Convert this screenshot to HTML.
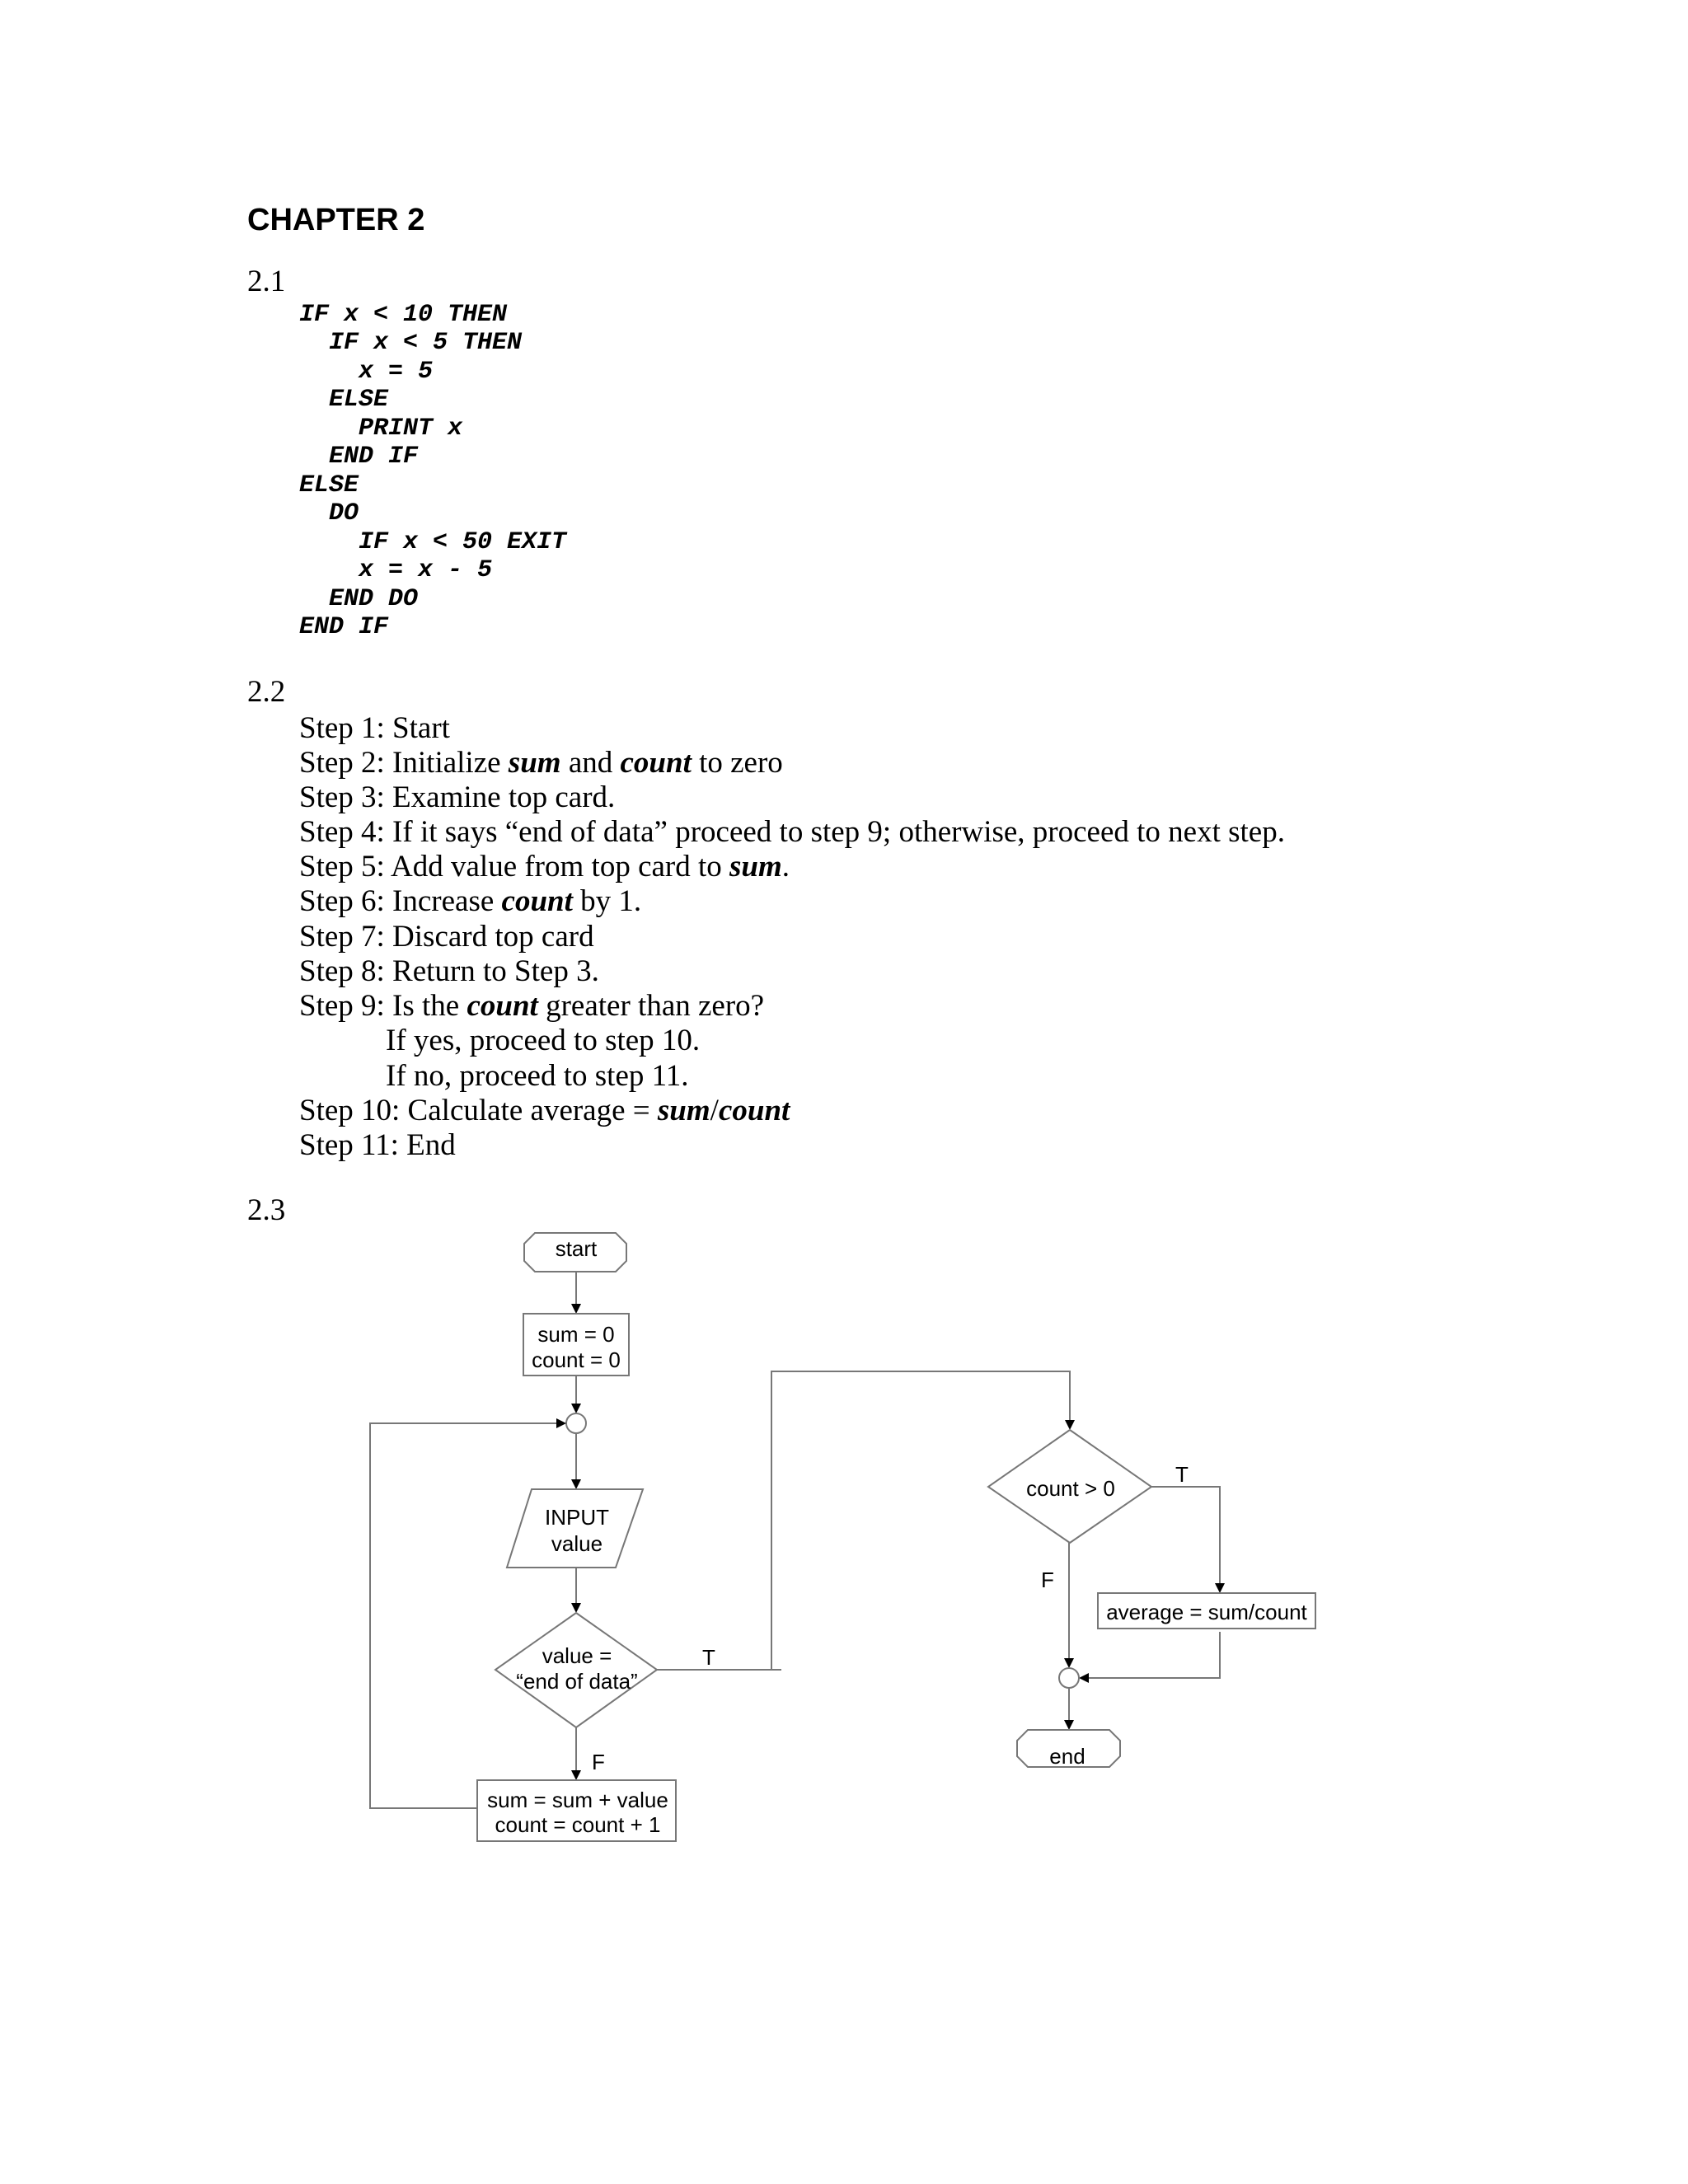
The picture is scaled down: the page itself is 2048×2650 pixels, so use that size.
<!DOCTYPE html>
<html><head><meta charset="utf-8"><style>
html,body{margin:0;padding:0;background:#fff;}
svg{display:block;}
.t{font-family:"Liberation Serif",serif;font-size:37px;fill:#000;}
.c{font-family:"Liberation Mono",monospace;font-size:30px;font-weight:bold;font-style:italic;fill:#000;}
.a{font-family:"Liberation Sans",sans-serif;font-size:26px;fill:#000;}
.bi{font-weight:bold;font-style:italic;}
.sh{fill:#fff;stroke:#777;stroke-width:2;}
.ln{fill:none;stroke:#777;stroke-width:2;}
.ar{fill:#000;}
</style></head><body>
<svg width="2048" height="2650" viewBox="0 0 2048 2650" xmlns="http://www.w3.org/2000/svg">
<text x="300" y="279" font-family="Liberation Sans, sans-serif" font-weight="bold" font-size="38">CHAPTER 2</text>
<text class="t" x="300" y="353">2.1</text>
<text class="c" x="363" y="389">IF x &lt; 10 THEN</text>
<text class="c" x="399" y="423">IF x &lt; 5 THEN</text>
<text class="c" x="435" y="458">x = 5</text>
<text class="c" x="399" y="492">ELSE</text>
<text class="c" x="435" y="527">PRINT x</text>
<text class="c" x="399" y="561">END IF</text>
<text class="c" x="363" y="596">ELSE</text>
<text class="c" x="399" y="630">DO</text>
<text class="c" x="435" y="665">IF x &lt; 50 EXIT</text>
<text class="c" x="435" y="699">x = x - 5</text>
<text class="c" x="399" y="734">END DO</text>
<text class="c" x="363" y="768">END IF</text>

<text class="t" x="300" y="851">2.2</text>
<text class="t" x="363" y="895">Step 1: Start</text>
<text class="t" x="363" y="937">Step 2: Initialize <tspan class="bi">sum</tspan> and <tspan class="bi">count</tspan> to zero</text>
<text class="t" x="363" y="979">Step 3: Examine top card.</text>
<text class="t" x="363" y="1021">Step 4: If it says “end of data” proceed to step 9; otherwise, proceed to next step.</text>
<text class="t" x="363" y="1063">Step 5: Add value from top card to <tspan class="bi">sum</tspan>.</text>
<text class="t" x="363" y="1105">Step 6: Increase <tspan class="bi">count</tspan> by 1.</text>
<text class="t" x="363" y="1148">Step 7: Discard top card</text>
<text class="t" x="363" y="1190">Step 8: Return to Step 3.</text>
<text class="t" x="363" y="1232">Step 9: Is the <tspan class="bi">count</tspan> greater than zero?</text>
<text class="t" x="468" y="1274">If yes, proceed to step 10.</text>
<text class="t" x="468" y="1317">If no, proceed to step 11.</text>
<text class="t" x="363" y="1359">Step 10: Calculate average = <tspan class="bi">sum</tspan>/<tspan class="bi">count</tspan></text>
<text class="t" x="363" y="1401">Step 11: End</text>

<text class="t" x="300" y="1480">2.3</text>

<!-- start -->
<polygon class="sh" points="649,1496 747,1496 760,1509 760,1530 747,1543 649,1543 636,1530 636,1509"/>
<text class="a" x="699" y="1524" text-anchor="middle">start</text>
<line class="ln" x1="699" y1="1543" x2="699" y2="1584"/>
<polygon class="ar" points="693,1582 705,1582 699,1594"/>
<!-- sum box -->
<rect class="sh" x="635" y="1594" width="128" height="75"/>
<text class="a" x="699" y="1628" text-anchor="middle">sum = 0</text>
<text class="a" x="699" y="1659" text-anchor="middle">count = 0</text>
<line class="ln" x1="699" y1="1669" x2="699" y2="1705"/>
<polygon class="ar" points="693,1703 705,1703 699,1715"/>
<circle class="sh" cx="699" cy="1727" r="12"/>
<line class="ln" x1="699" y1="1739" x2="699" y2="1797"/>
<polygon class="ar" points="693,1795 705,1795 699,1807"/>
<!-- parallelogram -->
<polygon class="sh" points="645,1807 780,1807 747,1902 615,1902"/>
<text class="a" x="700" y="1850" text-anchor="middle">INPUT</text>
<text class="a" x="700" y="1882" text-anchor="middle">value</text>
<line class="ln" x1="699" y1="1902" x2="699" y2="1947"/>
<polygon class="ar" points="693,1945 705,1945 699,1957"/>
<!-- diamond 1 -->
<polygon class="sh" points="699,1957 797,2026 699,2096 601,2026"/>
<text class="a" x="700" y="2018" text-anchor="middle">value =</text>
<text class="a" x="700" y="2049" text-anchor="middle">“end of data”</text>
<line class="ln" x1="699" y1="2096" x2="699" y2="2150"/>
<polygon class="ar" points="693,2148 705,2148 699,2160"/>
<text class="a" x="718" y="2147">F</text>
<!-- update box -->
<rect class="sh" x="579" y="2160" width="241" height="74"/>
<text class="a" x="701" y="2193" text-anchor="middle">sum = sum + value</text>
<text class="a" x="701" y="2223" text-anchor="middle">count = count + 1</text>
<!-- loop back -->
<polyline class="ln" points="579,2194 449,2194 449,1727 677,1727"/>
<polygon class="ar" points="675,1721 675,1733 687,1727"/>
<!-- T branch -->
<text class="a" x="852" y="2020">T</text>
<polyline class="ln" points="797,2026 948,2026"/>
<polyline class="ln" points="936,2026 936,1664 1298,1664 1298,1725"/>
<polygon class="ar" points="1292,1723 1304,1723 1298,1735"/>
<!-- diamond 2 -->
<polygon class="sh" points="1298,1735 1397,1804 1298,1872 1199,1804"/>
<text class="a" x="1299" y="1815" text-anchor="middle">count &gt; 0</text>
<text class="a" x="1426" y="1798">T</text>
<polyline class="ln" points="1397,1804 1480,1804 1480,1923"/>
<polygon class="ar" points="1474,1921 1486,1921 1480,1933"/>
<rect class="sh" x="1332" y="1933" width="264" height="43"/>
<text class="a" x="1464" y="1965" text-anchor="middle">average = sum/count</text>
<polyline class="ln" points="1480,1980 1480,2036 1321,2036"/>
<polygon class="ar" points="1321,2030 1321,2042 1309,2036"/>
<text class="a" x="1263" y="1926">F</text>
<line class="ln" x1="1297" y1="1872" x2="1297" y2="2014"/>
<polygon class="ar" points="1291,2012 1303,2012 1297,2024"/>
<circle class="sh" cx="1297" cy="2036" r="12"/>
<line class="ln" x1="1297" y1="2048" x2="1297" y2="2089"/>
<polygon class="ar" points="1291,2087 1303,2087 1297,2099"/>
<!-- end -->
<polygon class="sh" points="1247,2099 1346,2099 1359,2112 1359,2131 1346,2144 1247,2144 1234,2131 1234,2112"/>
<text class="a" x="1295" y="2140" text-anchor="middle">end</text>
</svg>
</body></html>
